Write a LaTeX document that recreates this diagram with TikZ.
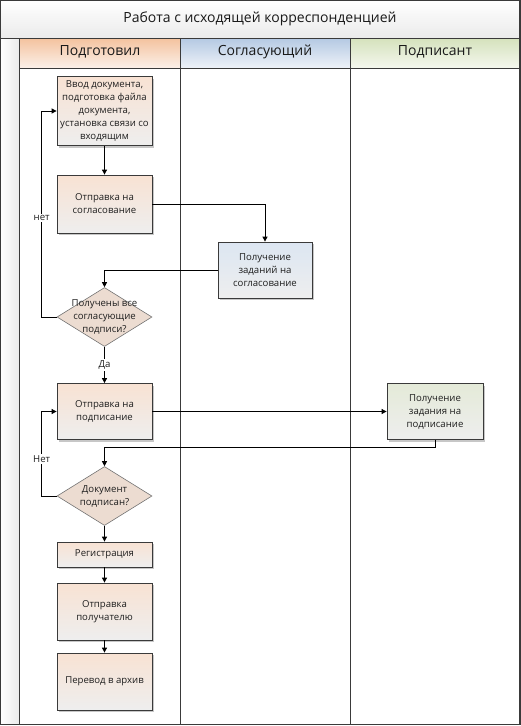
\documentclass[tikz,border=0pt]{standalone}
\usepackage{fontspec}
\setmainfont{Open Sans}
\usetikzlibrary{arrows.meta,shapes.geometric,shadows,calc}
\definecolor{frame}{HTML}{3A3A3A}
\definecolor{oraT}{HTML}{F4C29E}
\definecolor{oraB}{HTML}{FBF0E9}
\definecolor{bluT}{HTML}{B4C9E3}
\definecolor{bluB}{HTML}{EEF2F8}
\definecolor{grnT}{HTML}{D5E2BC}
\definecolor{grnB}{HTML}{F4F7EE}
\definecolor{boxO}{HTML}{F8E2D3}
\definecolor{boxB}{HTML}{DCE6F2}
\definecolor{boxG}{HTML}{E4EAD8}
\definecolor{boxBot}{HTML}{EEEEEE}
\definecolor{dia}{HTML}{ECDCD1}
\tikzset{
  lanebox/.style={draw=frame, line width=0.8pt, minimum width=95pt, align=center,
    font=\fontsize{9.6}{13}\selectfont, text=black!88, inner sep=2pt,
    drop shadow={shadow xshift=2pt, shadow yshift=-2pt, fill=black!22, opacity=1}},
  obox/.style={lanebox, top color=boxO, bottom color=boxBot},
  bbox/.style={lanebox, top color=boxB, bottom color=boxBot},
  gbox/.style={lanebox, top color=boxG, bottom color=boxBot},
  decision/.style={diamond, draw=black!55, line width=0.6pt, fill=dia, inner sep=0pt,
    minimum width=95pt, minimum height=59pt},
  dtext/.style={align=center, font=\fontsize{9.6}{13}\selectfont, text=black!88},
  conn/.style={draw=black, line width=0.9pt, -{Triangle[length=5pt,width=5pt]}},
  lbl/.style={fill=white, inner sep=1.5pt, font=\fontsize{9.6}{11}\selectfont, text=black!88},
  hdr/.style={font=\fontsize{14}{16}\selectfont, text=black!90}
}
\begin{document}
\begin{tikzpicture}[x=1pt,y=-1pt]
\useasboundingbox (0,0) rectangle (521,726);
% title band
\shade[top color=white, bottom color=black!8] (0,0) rectangle (520,38);
\node[hdr] (title) at (260,19) {Работа с исходящей корреспонденцией};
% left strip
\shade[left color=white, right color=black!8] (0,38) rectangle (19.5,724);
% lane headers
\shade[top color=oraT, bottom color=oraB] (19.5,38) rectangle (180,68);
\shade[top color=bluT, bottom color=bluB] (180,38) rectangle (350,68);
\shade[top color=grnT, bottom color=grnB] (350,38) rectangle (520,68);
\node[hdr] (h1) at (100,52) {Подготовил};
\node[hdr] (h2) at (265,52) {Согласующий};
\node[hdr] (h3) at (435,52) {Подписант};
% lines
\draw[frame, line width=0.8pt] (0,38) -- (520,38);
\draw[frame, line width=0.8pt] (19.5,68) -- (520,68);
\draw[frame, line width=0.8pt] (19.5,38) -- (19.5,724);
\draw[frame, line width=0.8pt] (180,38) -- (180,724);
\draw[frame, line width=0.8pt] (350,38) -- (350,724);
\draw[frame, line width=1.4pt] (0.7,0.7) rectangle (519.8,724.6);

% nodes
\node[obox, minimum height=69pt] (b1) at (104.5,111) {Ввод документа,\\подготовка файла\\документа,\\установка связи со\\входящим};
\node[obox, minimum height=58pt] (b2) at (104.5,204) {Отправка на\\согласование};
\node[bbox, minimum width=94pt, minimum height=56pt] (b3) at (265,270) {Получение\\заданий на\\согласование};
\node[decision, label={[dtext]center:Получены все\\согласующие\\подписи?}] (d1) at (104.5,317) {};
\node[obox, minimum height=56pt] (b4) at (104.5,411.5) {Отправка на\\подписание};
\node[gbox, minimum width=96pt, minimum height=56pt] (b5) at (435,411.5) {Получение\\задания на\\подписание};
\node[decision, label={[dtext]center:Документ\\подписан?}] (d2) at (104.5,496) {};
\node[obox, minimum height=25pt] (b6) at (104.5,554.5) {Регистрация};
\node[obox, minimum height=57pt] (b7) at (104.5,611.5) {Отправка\\получателю};
\node[obox, minimum height=57pt] (b8) at (104.5,681.5) {Перевод в архив};

% connectors
\draw[conn] (b1) -- (b2);
\draw[conn] (b2.east) -| (b3.north);
\draw[conn] (b3.west) -| (d1.north);
\draw[conn] (d1.west) -- ++(-15,0) |- node[lbl, pos=0.24] {нет} (b1.west);
\draw[conn] (d1.south) -- node[lbl] {Да} (b4.north);
\draw[conn] (b4.east) -- (b5.west);
\draw[conn] (b5.south) -- ++(0,8) -| (d2.north);
\draw[conn] (d2.west) -- ++(-15,0) |- node[lbl, pos=0.22] {Нет} (b4.west);
\draw[conn] (d2.south) -- (b6.north);
\draw[conn] (b6) -- (b7);
\draw[conn] (b7) -- (b8);
\end{tikzpicture}
\end{document}
